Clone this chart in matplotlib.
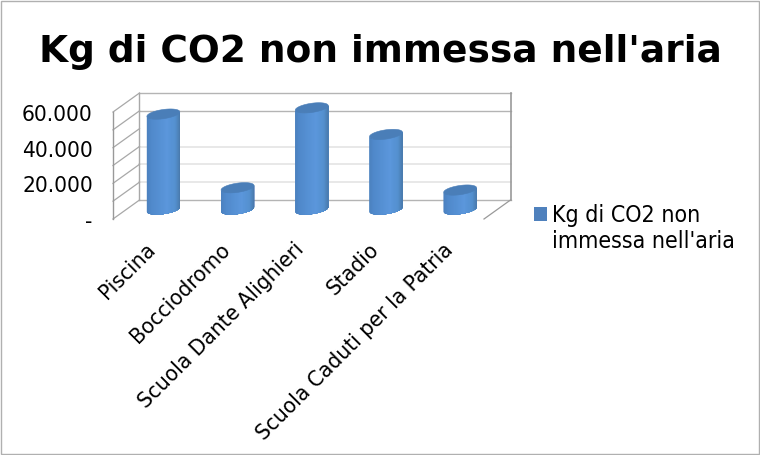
from matplotlib.patches import Rectangle, Patch
from matplotlib.colors import to_rgb
import matplotlib.pyplot as plt
import numpy as np

categories = ['Piscina', 'Bocciodromo', 'Scuola Dante Alighieri', 'Stadio', 'Scuola Caduti per la Patria']
values = [53500, 12200, 57000, 42100, 10900]
series_name = "Kg di CO2 non\nimmessa nell'aria"
title = "Kg di CO2 non immessa nell'aria"
y_ticks = [0, 20000, 40000, 60000]
y_labels = ['-', '20.000', '40.000', '60.000']
grid_strong = [50000, 60000, 0]
grid_light = [10000, 20000, 30000]
wall_lines = [0, 10000, 20000, 30000, 40000, 50000, 60000]

W, H = 760, 456
X0, X1, Y0, Y1 = 113, 484, 220, 113   # front plane in pixels
DEPTH_X = 26.5 / (X1 - X0) * len(categories)
DEPTH_Y = 19 / (Y0 - Y1) * 60000
RX = 0.2
RD = 0.27

def draw_walls(ax):
    n = len(categories)
    for v in grid_light:
        ax.plot([DEPTH_X, n + DEPTH_X], [v + DEPTH_Y] * 2, color='#e6e6e6', lw=1.3, clip_on=False, zorder=1)
    for v in grid_strong:
        ax.plot([DEPTH_X, n + DEPTH_X], [v + DEPTH_Y] * 2, color='#b4b4b4', lw=1, clip_on=False, zorder=1)
    for v in wall_lines:
        ax.plot([0, DEPTH_X], [v, v + DEPTH_Y], color='#a8a8a8', lw=0.9, clip_on=False, zorder=1)
    ax.plot([0, 0], [0, 60000], color='#999999', lw=1, clip_on=False, zorder=1)
    ax.plot([DEPTH_X, DEPTH_X], [DEPTH_Y, 60000 + DEPTH_Y], color='#a8a8a8', lw=1, clip_on=False, zorder=1)
    ax.plot([n + DEPTH_X] * 2, [DEPTH_Y, 60000 + DEPTH_Y], color='#999999', lw=1.2, clip_on=False, zorder=1)
    ax.plot([n, n + DEPTH_X], [0, DEPTH_Y], color='#999999', lw=0.9, clip_on=False, zorder=1)

def shade(f):
    stops = [0, 0.12, 0.6, 0.85, 1]
    cols = np.array([to_rgb(c) for c in ['#4c82c0', '#5089cb', '#5b97dc', '#5490cf', '#4a7aac']])
    return tuple(np.interp(f, stops, cols[:, k]) for k in range(3))

def draw_cylinder(ax, i, v):
    cx = i + 0.5 + DEPTH_X / 2
    cy = DEPTH_Y / 2
    sx = RD * DEPTH_X
    sy = RD * DEPTH_Y
    t0 = np.arctan2(sx, RX)
    ts = np.linspace(t0 - np.pi, t0, 41)
    xs = cx + RX * np.cos(ts) + sx * np.sin(ts)
    ys = sy * np.sin(ts)
    # each strip runs on to the right edge, the next one paints over it, so no seams show
    for k in range(40):
        f = (xs[k] - xs[0]) / (xs[-1] - xs[0])
        ax.fill(np.r_[xs[k:], xs[k:][::-1]],
                np.r_[cy + ys[k:], cy + v + ys[k:][::-1]],
                facecolor=shade(f), edgecolor='none', clip_on=False, zorder=3)
    tt = np.linspace(0, 2 * np.pi, 80)
    ax.fill(cx + RX * np.cos(tt) + sx * np.sin(tt), cy + v + sy * np.sin(tt),
            facecolor='#4a7eb8', edgecolor='#4a7eb8', lw=0.4, clip_on=False, zorder=4)

fig = plt.figure(figsize=(W / 100, H / 100), dpi=100)
fig.patches.append(Rectangle((1 / W, 1 / H), (W - 2.5) / W, (H - 2.5) / H, transform=fig.transFigure,
                             facecolor='white', edgecolor='#b0b0b0', lw=1, zorder=-5))
ax = fig.add_axes([X0 / W, 1 - Y0 / H, (X1 - X0) / W, (Y0 - Y1) / H])
ax.patch.set_visible(False)
ax.set_xlim(0, len(categories))
ax.set_ylim(0, 60000)
for s in ax.spines.values():
    s.set_visible(False)

draw_walls(ax)
for i, v in enumerate(values):
    draw_cylinder(ax, i, v)

ax.set_yticks(y_ticks)
ax.set_yticklabels(y_labels, fontsize=16.2, fontstretch='condensed')
ax.tick_params(axis='y', length=0, pad=14.5)
ax.set_xticks(np.arange(len(categories)) + 0.44)
ax.set_xticklabels(categories, fontsize=16.2, fontstretch='condensed', rotation=45, ha='right', rotation_mode='anchor')
ax.tick_params(axis='x', length=0, pad=14)

fig.text(380 / W, 1 - 62 / H, title, fontsize=27, fontweight='bold', ha='center', va='baseline')

leg = fig.legend(handles=[Patch(facecolor='#4f81bd', label=series_name)], loc='upper left',
                 bbox_to_anchor=(527 / W, 1 - 197 / H), frameon=False,
                 prop={'size': 16.6, 'stretch': 'condensed'},
                 handlelength=0.55, handleheight=0.55, handletextpad=0.25, borderpad=0.3, borderaxespad=0)
leg.get_texts()[0].set_linespacing(1.15)
swatch = leg.legend_handles[0]
swatch.set_y(swatch.get_y() + 10)

fig.savefig('out.png', dpi=100)
